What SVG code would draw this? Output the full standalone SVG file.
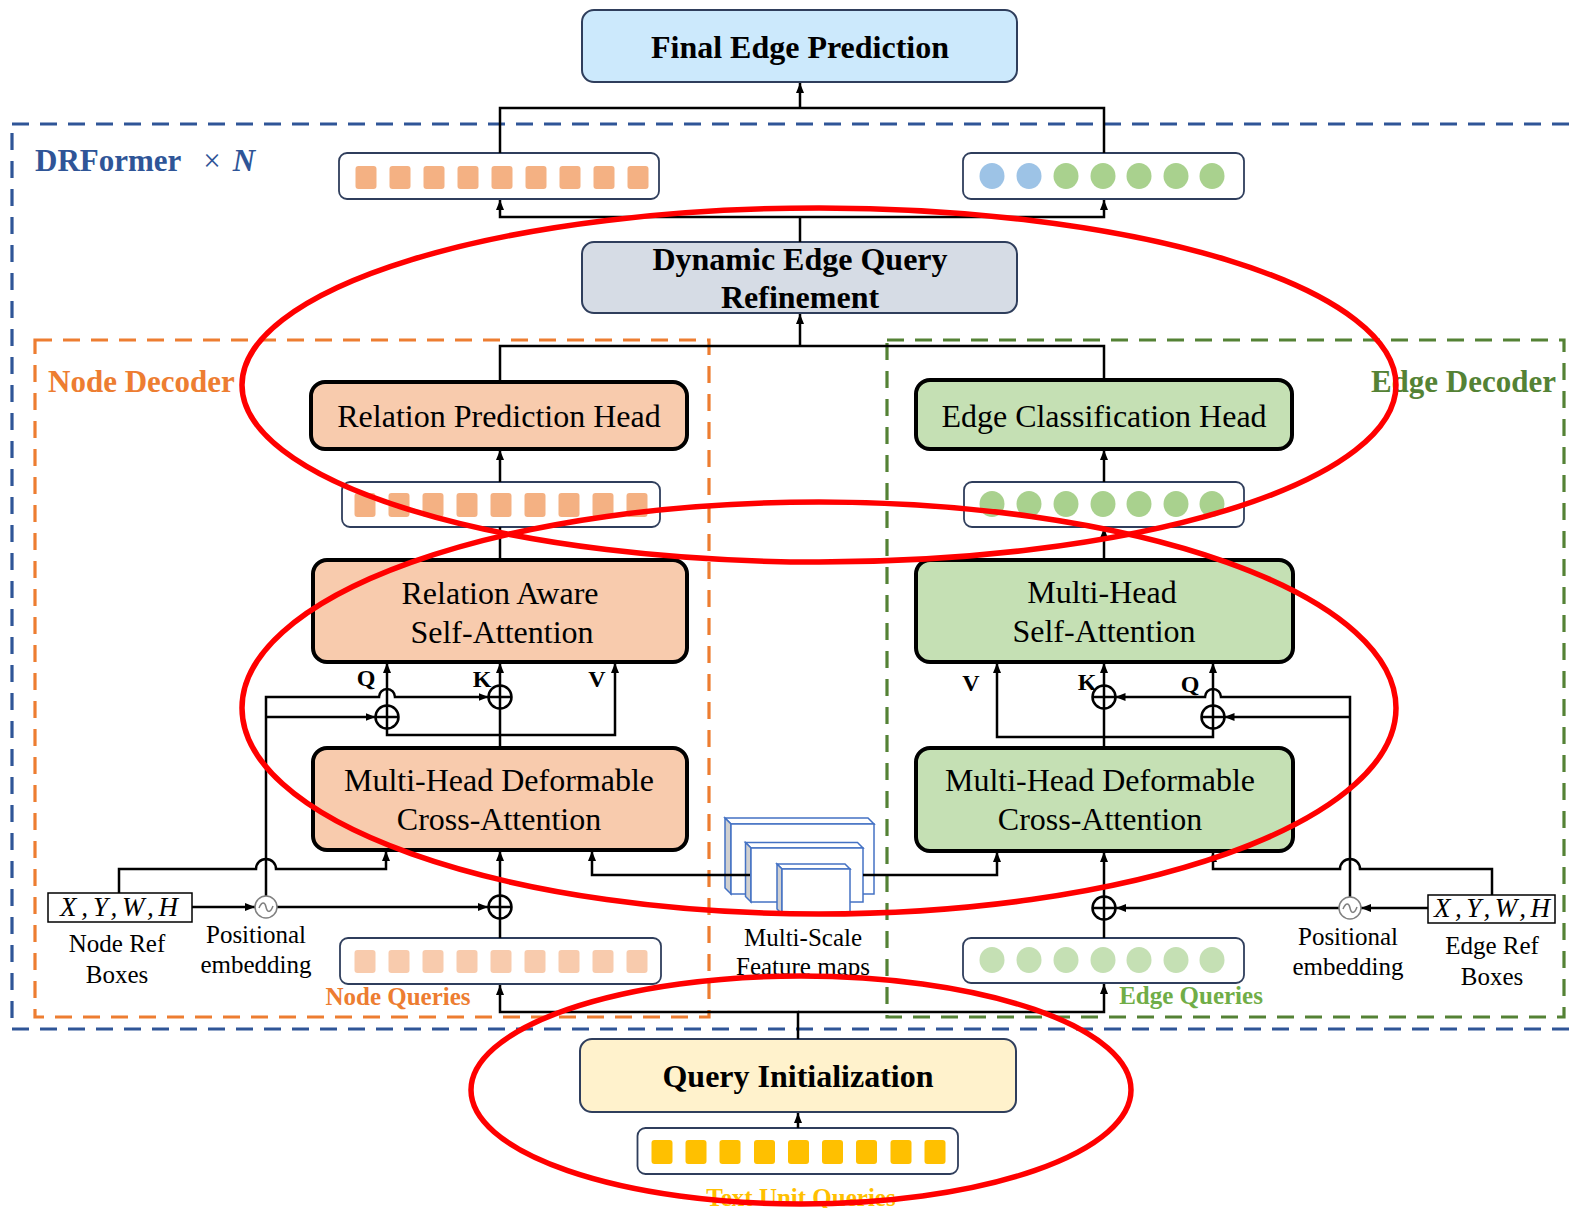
<svg xmlns="http://www.w3.org/2000/svg" width="1575" height="1208" viewBox="0 0 1575 1208">
<style>
text{font-family:"Liberation Serif","Times New Roman",serif;fill:#000}
.t{font-size:32px;text-anchor:middle}
.b{font-weight:bold}
.s{font-size:25px;text-anchor:middle}
.qkv{font-size:24px;font-weight:bold;text-anchor:middle}
.nb{fill:#F8CBAD;stroke:#000;stroke-width:4}
.eb{fill:#C5E0B4;stroke:#000;stroke-width:4}
.tb{stroke:#2F3E5C;stroke-width:2}
.vec{fill:#fff;stroke:#2F3E5C;stroke-width:1.8}
.ln{fill:none;stroke:#000;stroke-width:2.5}
.ar{marker-end:url(#ah)}
.sq1{fill:#F4B183}
.sq2{fill:#F8CBAD}
.sq3{fill:#FFC000}
.cg{fill:#A9D18E}
.cg2{fill:#C5E0B4}
.cb{fill:#9DC3E6}
.red{fill:none;stroke:#FF0000;stroke-width:5.5}
.fm{fill:#fff;stroke:#4472C4;stroke-width:1.5}
.fmg{fill:#D0D0D0;stroke:#4472C4;stroke-width:1.5}
.dash{fill:none;stroke-width:3.2;stroke-dasharray:17 11}
</style>
<defs>
<marker id="ah" viewBox="0 0 10 8" refX="10" refY="4" markerWidth="10" markerHeight="9" markerUnits="userSpaceOnUse" orient="auto"><path d="M0,0L10,4L0,8z" fill="#000"/></marker>
<g id="plus"><circle r="11.5" fill="#fff" stroke="#000" stroke-width="2.5"/><path d="M-11.5,0H11.5M0,-11.5V11.5" stroke="#000" stroke-width="2.5"/></g>
<g id="pe"><circle r="11" fill="#fff" stroke="#808080" stroke-width="1.5"/><path d="M-7,1C-4,-6 -1,-5 0,0S4,7 7,-1" fill="none" stroke="#808080" stroke-width="1.5"/></g>
</defs>

<g id="frames">
<rect x="12" y="124" width="1600" height="905" class="dash" stroke="#2F5597"/>
<rect x="35" y="340" width="674" height="677" class="dash" stroke="#ED7D31"/>
<rect x="887" y="340" width="677" height="677" class="dash" stroke="#548235"/>
<text x="35" y="171" font-size="31" style="fill:#2F5597"><tspan font-weight="bold">DRFormer</tspan><tspan dx="22">×</tspan><tspan dx="12" font-weight="bold" font-style="italic">N</tspan></text>
<text x="48" y="392" font-size="31" font-weight="bold" style="fill:#ED7D31">Node Decoder</text>
<text x="1556" y="392" font-size="31" font-weight="bold" text-anchor="end" style="fill:#548235">Edge Decoder</text>
</g>

<g id="final">
<rect x="582" y="10" width="435" height="72" rx="12" fill="#CCE9FC" class="tb"/>
<text x="800" y="58" class="t b">Final Edge Prediction</text>
</g>

<g id="node-out-vec">
<rect x="339" y="153" width="320" height="46" rx="8" class="vec"/>
<g class="sq1">
<rect x="355.5" y="166" width="21" height="23" rx="3"/><rect x="389.5" y="166" width="21" height="23" rx="3"/><rect x="423.5" y="166" width="21" height="23" rx="3"/><rect x="457.5" y="166" width="21" height="23" rx="3"/><rect x="491.5" y="166" width="21" height="23" rx="3"/><rect x="525.5" y="166" width="21" height="23" rx="3"/><rect x="559.5" y="166" width="21" height="23" rx="3"/><rect x="593.5" y="166" width="21" height="23" rx="3"/><rect x="627.5" y="166" width="21" height="23" rx="3"/>
</g>
</g>

<g id="edge-out-vec">
<rect x="963" y="153" width="281" height="46" rx="8" class="vec"/>
<ellipse cx="992" cy="176" rx="12.5" ry="13" class="cb"/><ellipse cx="1029" cy="176" rx="12.5" ry="13" class="cb"/>
<ellipse cx="1066" cy="176" rx="12.5" ry="13" class="cg"/><ellipse cx="1103" cy="176" rx="12.5" ry="13" class="cg"/><ellipse cx="1139" cy="176" rx="12.5" ry="13" class="cg"/><ellipse cx="1176" cy="176" rx="12.5" ry="13" class="cg"/><ellipse cx="1212" cy="176" rx="12.5" ry="13" class="cg"/>
</g>

<g id="deqr">
<rect x="582" y="242" width="435" height="71" rx="12" fill="#D6DCE5" class="tb"/>
<text x="800" y="270" class="t b">Dynamic Edge Query</text>
<text x="800" y="308" class="t b">Refinement</text>
</g>

<g id="rph">
<rect x="311" y="382" width="376" height="67" rx="14" class="nb"/>
<text x="499" y="427" class="t">Relation Prediction Head</text>
</g>

<g id="ech">
<rect x="916" y="380" width="376" height="69" rx="14" class="eb"/>
<text x="1104" y="427" class="t">Edge Classification Head</text>
</g>

<g id="node-mid-vec">
<rect x="342" y="482" width="318" height="45" rx="8" class="vec"/>
<g class="sq1">
<rect x="354.5" y="493" width="21" height="24" rx="3"/><rect x="388.5" y="493" width="21" height="24" rx="3"/><rect x="422.5" y="493" width="21" height="24" rx="3"/><rect x="456.5" y="493" width="21" height="24" rx="3"/><rect x="490.5" y="493" width="21" height="24" rx="3"/><rect x="524.5" y="493" width="21" height="24" rx="3"/><rect x="558.5" y="493" width="21" height="24" rx="3"/><rect x="592.5" y="493" width="21" height="24" rx="3"/><rect x="626.5" y="493" width="21" height="24" rx="3"/>
</g>
</g>

<g id="edge-mid-vec">
<rect x="964" y="482" width="280" height="45" rx="8" class="vec"/>
<g class="cg">
<ellipse cx="992" cy="504" rx="12.5" ry="13"/><ellipse cx="1029" cy="504" rx="12.5" ry="13"/><ellipse cx="1066" cy="504" rx="12.5" ry="13"/><ellipse cx="1103" cy="504" rx="12.5" ry="13"/><ellipse cx="1139" cy="504" rx="12.5" ry="13"/><ellipse cx="1176" cy="504" rx="12.5" ry="13"/><ellipse cx="1212" cy="504" rx="12.5" ry="13"/>
</g>
</g>

<g id="ras">
<rect x="313" y="560" width="374" height="102" rx="14" class="nb"/>
<text x="500" y="604" class="t">Relation Aware</text>
<text x="502" y="643" class="t">Self-Attention</text>
</g>

<g id="mhsa">
<rect x="916" y="560" width="377" height="102" rx="14" class="eb"/>
<text x="1102" y="603" class="t">Multi-Head</text>
<text x="1104" y="642" class="t">Self-Attention</text>
</g>

<g id="node-mhd">
<rect x="313" y="748" width="374" height="102" rx="14" class="nb"/>
<text x="499" y="791" class="t">Multi-Head Deformable</text>
<text x="499" y="830" class="t">Cross-Attention</text>
</g>

<g id="edge-mhd">
<rect x="916" y="748" width="377" height="103" rx="14" class="eb"/>
<text x="1100" y="791" class="t">Multi-Head Deformable</text>
<text x="1100" y="830" class="t">Cross-Attention</text>
</g>

<g id="node-ref">
<rect x="48" y="893" width="144" height="29" fill="#fff" stroke="#000" stroke-width="1.5"/>
<text x="119" y="916" font-size="27" font-style="italic" text-anchor="middle" textLength="118" lengthAdjust="spacing">X,Y,W,H</text>
<text x="117" y="952" class="s">Node Ref</text>
<text x="117" y="983" class="s">Boxes</text>
</g>

<g id="node-pe">
<text x="256" y="943" class="s">Positional</text>
<text x="256" y="973" class="s">embedding</text>
</g>

<g id="node-queries">
<rect x="340" y="938" width="321" height="46" rx="8" class="vec"/>
<g class="sq2">
<rect x="354.5" y="950" width="21" height="23" rx="3"/><rect x="388.5" y="950" width="21" height="23" rx="3"/><rect x="422.5" y="950" width="21" height="23" rx="3"/><rect x="456.5" y="950" width="21" height="23" rx="3"/><rect x="490.5" y="950" width="21" height="23" rx="3"/><rect x="524.5" y="950" width="21" height="23" rx="3"/><rect x="558.5" y="950" width="21" height="23" rx="3"/><rect x="592.5" y="950" width="21" height="23" rx="3"/><rect x="626.5" y="950" width="21" height="23" rx="3"/>
</g>
<text x="398" y="1005" font-size="25" font-weight="bold" text-anchor="middle" style="fill:#ED7D31">Node Queries</text>
</g>

<g id="edge-queries">
<rect x="963" y="938" width="281" height="45" rx="8" class="vec"/>
<g class="cg2">
<ellipse cx="992" cy="960" rx="12.5" ry="13"/><ellipse cx="1029" cy="960" rx="12.5" ry="13"/><ellipse cx="1066" cy="960" rx="12.5" ry="13"/><ellipse cx="1103" cy="960" rx="12.5" ry="13"/><ellipse cx="1139" cy="960" rx="12.5" ry="13"/><ellipse cx="1176" cy="960" rx="12.5" ry="13"/><ellipse cx="1212" cy="960" rx="12.5" ry="13"/>
</g>
<text x="1191" y="1004" font-size="25" font-weight="bold" text-anchor="middle" style="fill:#70AD47">Edge Queries</text>
</g>

<g id="edge-pe">
<text x="1348" y="945" class="s">Positional</text>
<text x="1348" y="975" class="s">embedding</text>
</g>

<g id="edge-ref">
<rect x="1428" y="895" width="127" height="28" fill="#fff" stroke="#000" stroke-width="1.5"/>
<text x="1492" y="917" font-size="27" font-style="italic" text-anchor="middle" textLength="116" lengthAdjust="spacing">X,Y,W,H</text>
<text x="1492" y="954" class="s">Edge Ref</text>
<text x="1492" y="985" class="s">Boxes</text>
</g>

<g id="feature-maps">
<polygon points="725,818 868,818 874,824 731,824" class="fm"/>
<polygon points="725,818 731,824 731,894 725,888" class="fmg"/>
<rect x="731" y="824" width="143" height="70" class="fm"/>
<polygon points="745.5,842.5 857.5,842.5 863,848 751,848" class="fm"/>
<polygon points="745.5,842.5 751,848 751,902 745.5,896.5" class="fmg"/>
<rect x="751" y="848" width="112" height="54" class="fm"/>
<polygon points="777,864 845,864 850,869 782,869" class="fm"/>
<polygon points="777,864 782,869 782,914 777,909" class="fmg"/>
<rect x="782" y="869" width="68" height="45" class="fm"/>
<text x="803" y="946" class="s">Multi-Scale</text>
<text x="803" y="975" class="s">Feature maps</text>
</g>

<g id="query-init">
<rect x="580" y="1039" width="436" height="73" rx="12" fill="#FFF2CC" class="tb"/>
<text x="798" y="1087" class="t b">Query Initialization</text>
</g>

<g id="text-unit-queries">
<rect x="637.5" y="1128" width="320.5" height="46" rx="8" class="vec"/>
<g class="sq3">
<rect x="651.5" y="1140" width="21" height="24" rx="3"/><rect x="685.5" y="1140" width="21" height="24" rx="3"/><rect x="719.5" y="1140" width="21" height="24" rx="3"/><rect x="754" y="1140" width="21" height="24" rx="3"/><rect x="788" y="1140" width="21" height="24" rx="3"/><rect x="822" y="1140" width="21" height="24" rx="3"/><rect x="856" y="1140" width="21" height="24" rx="3"/><rect x="890.5" y="1140" width="21" height="24" rx="3"/><rect x="924.5" y="1140" width="21" height="24" rx="3"/>
</g>
<text x="801" y="1206" font-size="25" font-weight="bold" text-anchor="middle" style="fill:#FFC000">Text Unit Queries</text>
</g>

<g id="connectors">
<path d="M500,153V108H1104V153" class="ln"/>
<path d="M800,108V83" class="ln ar"/>
<path d="M800,242V217" class="ln"/>
<path d="M800,217H500V200" class="ln ar"/>
<path d="M800,217H1104V200" class="ln ar"/>
<path d="M800,346V314" class="ln ar"/>
<path d="M500,382V346H1104V380" class="ln"/>
<path d="M500,482V450" class="ln ar"/>
<path d="M1104,482V450" class="ln ar"/>
<path d="M500,560V527" class="ln"/>
<path d="M1104,560V528" class="ln ar"/>

<path d="M500,748V708.5" class="ln"/>
<path d="M500,685.5V663" class="ln ar"/>
<path d="M387,728.5V735H615V663" class="ln ar"/>
<path d="M387,705.5V663" class="ln ar"/>
<path d="M266,896V697H379A8,8 0 0 1 395,697H488.5" class="ln ar"/>
<path d="M266,717H375.5" class="ln ar"/>
<path d="M119,893V869H256A10,10 0 0 1 276,869H386V851" class="ln ar"/>
<path d="M192,907H255" class="ln ar"/>
<path d="M277,907H488" class="ln ar"/>
<path d="M500,938V919" class="ln"/>
<path d="M500,895V851" class="ln ar"/>
<path d="M750,875H592V851" class="ln ar"/>

<path d="M1104,748V708.5" class="ln"/>
<path d="M1104,685.5V663" class="ln ar"/>
<path d="M1213,728.5V737H997V663" class="ln ar"/>
<path d="M1213,705.5V663" class="ln ar"/>
<path d="M1350,897V697H1221A8,8 0 0 0 1205,697H1115.5" class="ln ar"/>
<path d="M1350,717H1224.5" class="ln ar"/>
<path d="M1492,895V869H1360A10,10 0 0 0 1340,869H1213V852" class="ln ar"/>
<path d="M1428,908H1361" class="ln ar"/>
<path d="M1339,908H1116" class="ln ar"/>
<path d="M1104,938V920" class="ln"/>
<path d="M1104,896V852" class="ln ar"/>
<path d="M863,875H997V852" class="ln ar"/>

<path d="M798,1039V1012H500V985" class="ln ar"/>
<path d="M798,1012H1104V984" class="ln ar"/>
<path d="M798,1128V1113" class="ln ar"/>

<use href="#plus" x="500" y="697"/>
<use href="#plus" x="387" y="717"/>
<use href="#plus" x="500" y="907"/>
<use href="#plus" x="1104" y="697"/>
<use href="#plus" x="1213" y="717"/>
<use href="#plus" x="1104" y="908"/>
<use href="#pe" x="266" y="907"/>
<use href="#pe" x="1350" y="908"/>
<text x="366" y="686" class="qkv">Q</text>
<text x="482" y="687" class="qkv">K</text>
<text x="597" y="687" class="qkv">V</text>
<text x="971" y="691" class="qkv">V</text>
<text x="1087" y="690" class="qkv">K</text>
<text x="1190" y="692" class="qkv">Q</text>
</g>

<g id="annotations">
<ellipse cx="819" cy="385" rx="577" ry="177" class="red"/>
<ellipse cx="819" cy="708" rx="577" ry="206" class="red"/>
<ellipse cx="801" cy="1090" rx="330" ry="114" class="red"/>
</g>
</svg>
